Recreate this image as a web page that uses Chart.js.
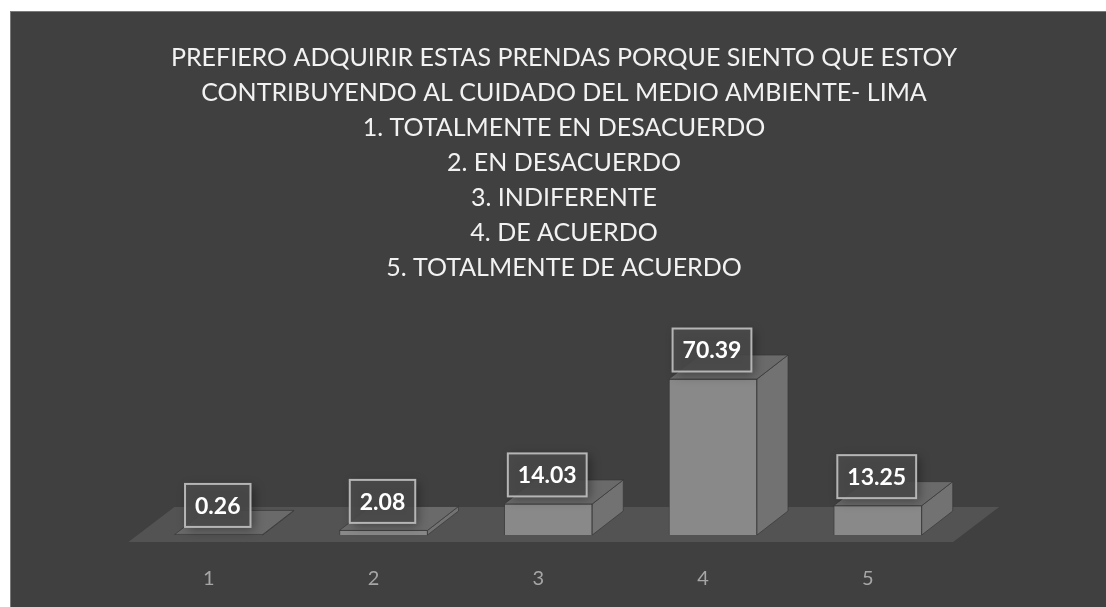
<!DOCTYPE html>
<html>
<head>
<meta charset="utf-8">
<script src="https://cdn.jsdelivr.net/npm/chart.js@4.4.1/dist/chart.umd.min.js"></script>
<style>
  html, body { margin: 0; padding: 0; background: #ffffff; }
  #wrap {
    position: absolute; left: 10px; top: 11px;
    width: 1096px; height: 596px; box-sizing: border-box;
    border-top: 1px solid #7a7a7a; border-left: 1px solid #7a7a7a;
    background: #404040;
  }
</style>
</head>
<body>
<div id="wrap"><canvas id="myBarChart"></canvas></div>
<script>
// data
var categories = ['1', '2', '3', '4', '5'];
var values = [0.26, 2.08, 14.03, 70.39, 13.25];
var titleLines = [
  'PREFIERO ADQUIRIR ESTAS PRENDAS PORQUE SIENTO QUE ESTOY',
  'CONTRIBUYENDO AL CUIDADO DEL MEDIO AMBIENTE- LIMA',
  '1. TOTALMENTE EN DESACUERDO',
  '2. EN DESACUERDO',
  '3. INDIFERENTE',
  '4. DE ACUERDO',
  '5. TOTALMENTE DE ACUERDO'
];

// fake 3d: floor, side + top faces, boxed value labels
var DX = 31, DY = -24;
var bars3d = {
  id: 'bars3d',
  beforeDatasetsDraw: function(chart) {
    var ctx = chart.ctx, area = chart.chartArea;
    var zero = chart.scales.y.getPixelForValue(0);
    ctx.save();
    ctx.fillStyle = '#535353';
    ctx.beginPath();
    ctx.moveTo(area.left - 8, zero + 7);
    ctx.lineTo(area.right - 7, zero + 7);
    ctx.lineTo(area.right + 39, zero - 28);
    ctx.lineTo(area.left + 38, zero - 28);
    ctx.closePath();
    ctx.fill();
    ctx.restore();
  },
  afterDatasetsDraw: function(chart) {
    var ctx = chart.ctx;
    var meta = chart.getDatasetMeta(0);
    ctx.save();
    meta.data.forEach(function(bar, i) {
      var l = bar.x - bar.width / 2, r = bar.x + bar.width / 2;
      var t = bar.y, b = bar.base;
      ctx.strokeStyle = 'rgba(55,55,55,0.7)';
      ctx.lineWidth = 1;
      // side face
      ctx.fillStyle = '#727272';
      ctx.beginPath();
      ctx.moveTo(r, b); ctx.lineTo(r + DX, b + DY);
      ctx.lineTo(r + DX, t + DY); ctx.lineTo(r, t);
      ctx.closePath(); ctx.fill(); ctx.stroke();
      // top face
      ctx.fillStyle = '#6a6a6a';
      ctx.beginPath();
      ctx.moveTo(l, t); ctx.lineTo(r, t);
      ctx.lineTo(r + DX, t + DY); ctx.lineTo(l + DX, t + DY);
      ctx.closePath(); ctx.fill(); ctx.stroke();
    });
    ctx.font = 'bold 23px Lato';
    ctx.textAlign = 'center';
    ctx.textBaseline = 'middle';
    meta.data.forEach(function(bar, i) {
      var txt = values[i].toFixed(2);
      var w = ctx.measureText(txt).width + 20, h = 43;
      var cx = bar.x - 1, cy = bar.y - 29;
      ctx.save();
      ctx.shadowColor = 'rgba(0,0,0,0.45)';
      ctx.shadowBlur = 10;
      ctx.shadowOffsetX = 3;
      ctx.shadowOffsetY = 3;
      ctx.fillStyle = 'rgba(75,75,75,0.85)';
      ctx.fillRect(cx - w / 2, cy - h / 2, w, h);
      ctx.restore();
      ctx.strokeStyle = '#b5b5b5';
      ctx.lineWidth = 2;
      ctx.strokeRect(cx - w / 2, cy - h / 2, w, h);
      ctx.fillStyle = '#ffffff';
      ctx.fillText(txt, cx, cy + 1);
    });
    ctx.restore();
  }
};

var ctxBar = document.getElementById('myBarChart').getContext('2d');
var myChart = new Chart(ctxBar, {
  type: 'bar',
  data: {
    labels: categories,
    datasets: [{
      data: values,
      backgroundColor: '#898989',
      borderColor: 'rgba(55,55,55,0.7)',
      borderWidth: 1,
      barThickness: 88
    }]
  },
  options: {
    responsive: true,
    maintainAspectRatio: false,
    animation: false,
    layout: {
      padding: { left: 125.4, right: 114.4, top: 0, bottom: 17.4 }
    },
    scales: {
      x: {
        grid: { display: false, drawTicks: false },
        border: { display: false },
        ticks: {
          color: '#a6a6a6',
          font: { family: 'Lato', size: 20 },
          padding: 32,
          labelOffset: -10
        },
        afterFit: function(scale) { scale.height = 54.6; }
      },
      y: {
        position: 'right',
        min: 0,
        max: 100,
        grid: { display: false, drawTicks: false },
        border: { display: false },
        ticks: { display: false },
        afterFit: function(scale) { scale.width = 31.5; }
      }
    },
    plugins: {
      legend: { display: false },
      tooltip: { enabled: false },
      title: {
        display: true,
        text: titleLines,
        color: '#f2f2f2',
        font: { family: 'Lato', size: 25, weight: 'normal', lineHeight: 1.4 },
        padding: { top: 28, bottom: 28.4 }
      }
    }
  },
  plugins: [bars3d]
});
</script>
</body>
</html>
